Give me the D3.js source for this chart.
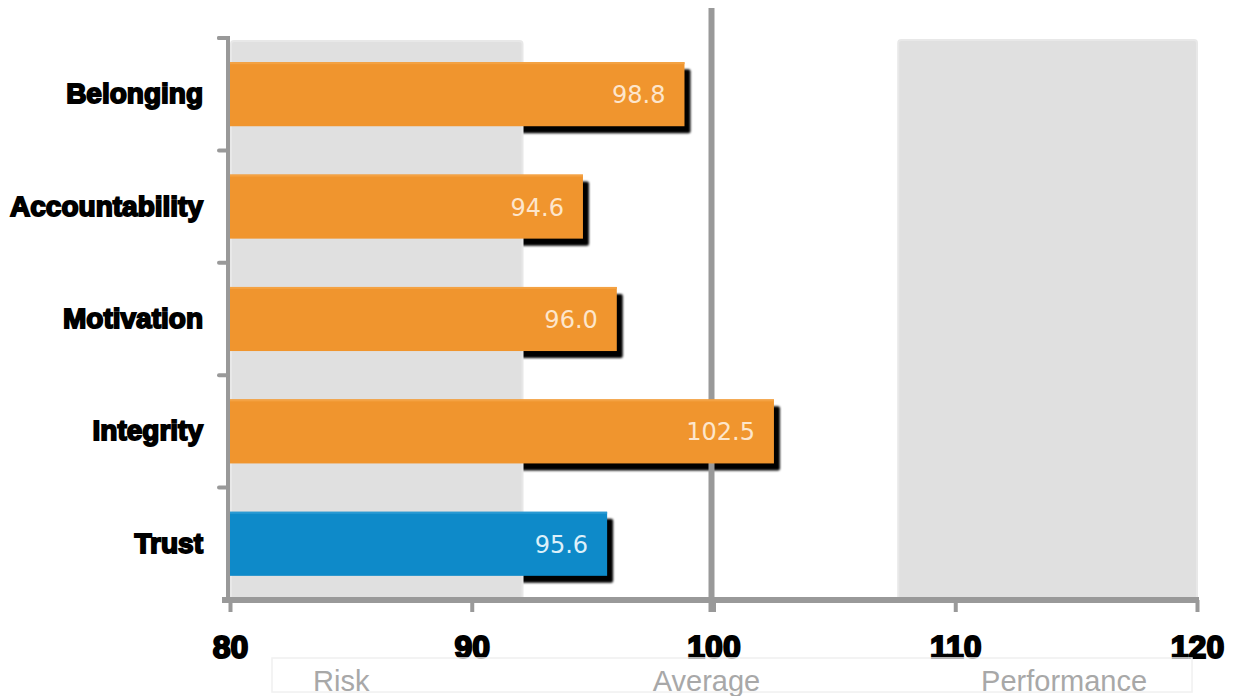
<!DOCTYPE html>
<html><head><meta charset="utf-8">
<script src="https://cdn.jsdelivr.net/npm/d3@7"></script>
<style>
html,body{margin:0;padding:0;background:#fff;}
svg{display:block;}
</style></head>
<body>
<svg id="chart" width="1233" height="696"></svg>
<script>
// ---- data ----
const categories = ["Belonging", "Accountability", "Motivation", "Integrity", "Trust"];
const values = [98.8, 94.6, 96.0, 102.5, 95.6];
const highlight = ["Trust"];
const xTicks = [80, 90, 100, 110, 120];
const zoneNames = ["Risk", "Average", "Performance"];
const riskZone = [80, 92.1];
const perfZone = [107.6, 120];
const averageValue = 100;

const svg = d3.select("#chart");
const W = 1233, H = 696;
const mLeft = 230, mRight = 1197, mTop = 38, mBottom = 600;

const x = d3.scaleLinear().domain([80, 120]).range([mLeft, mRight]);
const y = d3.scaleBand().domain(categories).range([mTop, mBottom]).paddingInner(0.43).paddingOuter(0.215);

const grey = "#999999";
const orange = "#f0952e", blue = "#0e8ac9";

const defs = svg.append("defs");
const blur = defs.append("filter").attr("id", "sh").attr("x", "-5%").attr("y", "-20%").attr("width", "110%").attr("height", "140%");
blur.append("feGaussianBlur").attr("stdDeviation", 0.8);

const data = categories.map((c, i) => ({ c, v: values[i] }));

// shadows
svg.append("g").selectAll("rect").data(data).join("rect")
  .attr("x", x(80) + 6).attr("y", d => y(d.c) + 7)
  .attr("width", d => x(d.v) - x(80)).attr("height", y.bandwidth())
  .attr("rx", 2).attr("fill", "#000").attr("filter", "url(#sh)");

// zones
const zones = [riskZone, perfZone];
svg.append("g").selectAll("rect").data(zones).join("rect")
  .attr("x", d => x(d[0]) + 1).attr("y", (d, i) => i === 0 ? 41 : 40)
  .attr("width", d => x(d[1]) - x(d[0]) - 1).attr("height", (d, i) => mBottom - (i === 0 ? 41 : 40))
  .attr("rx", 3).attr("fill", "#e0e0e0").attr("stroke", "#e8e8e8").attr("stroke-width", 2);

// average line
svg.append("line").attr("x1", x(averageValue) - 2).attr("x2", x(averageValue) - 2)
  .attr("y1", 8).attr("y2", 612).attr("stroke", grey).attr("stroke-width", 6);

// bars
svg.append("g").selectAll("rect").data(data).join("rect")
  .attr("x", x(80)).attr("y", d => y(d.c))
  .attr("width", d => x(d.v) - x(80)).attr("height", y.bandwidth())
  .attr("fill", d => highlight.includes(d.c) ? blue : orange);
// subtle top highlight
svg.append("g").selectAll("rect").data(data).join("rect")
  .attr("x", x(80)).attr("y", d => y(d.c))
  .attr("width", d => x(d.v) - x(80)).attr("height", 2)
  .attr("fill", d => highlight.includes(d.c) ? "#2a9ad3" : "#f4a243");

// value labels
svg.append("g").selectAll("text").data(data).join("text")
  .attr("x", d => x(d.v) - 19).attr("y", d => y(d.c) + y.bandwidth() / 2 + 9)
  .attr("text-anchor", "end")
  .attr("font-family", "DejaVu Sans").attr("font-size", 24)
  .attr("fill", d => highlight.includes(d.c) ? "#dcf0fa" : "#fde6cc")
  .text(d => d.v.toFixed(1));

// x axis
const xAxis = svg.append("g").attr("transform", `translate(0,${mBottom})`)
  .call(d3.axisBottom(x).tickValues(xTicks).tickSize(12).tickPadding(23).tickFormat(d3.format("d")));
xAxis.select(".domain").remove();
xAxis.append("line").attr("x1", mLeft - 8).attr("x2", mRight + 2).attr("y1", 0).attr("y2", 0)
  .attr("stroke", grey).attr("stroke-width", 6);
xAxis.selectAll(".tick line").attr("stroke", grey).attr("stroke-width", 4);
xAxis.selectAll(".tick text")
  .attr("font-family", "Liberation Sans").attr("font-weight", "bold").attr("font-size", 32)
  .attr("fill", "#000").attr("stroke", "#000").attr("stroke-width", 2);

// y axis
const yAxis = svg.append("g").attr("transform", `translate(${mLeft - 2},0)`)
  .call(d3.axisLeft(y).tickSize(0).tickPadding(25));
yAxis.select(".domain").remove();
yAxis.append("line").attr("x1", 0).attr("x2", 0).attr("y1", mTop - 2).attr("y2", mBottom)
  .attr("stroke", grey).attr("stroke-width", 4);
yAxis.selectAll(".tick text")
  .attr("font-family", "Liberation Sans").attr("font-weight", "bold").attr("font-size", 28)
  .attr("fill", "#000").attr("stroke", "#000").attr("stroke-width", 1.8);
const bounds = categories.map(c => y(c) - y.step() * y.paddingInner() / 2).concat([mTop]);
yAxis.append("g").selectAll("line").data(bounds).join("line")
  .attr("x1", -9).attr("x2", 0).attr("y1", d => d).attr("y2", d => d)
  .attr("stroke", grey).attr("stroke-width", 4).attr("stroke-linecap", "round");

// zone legend
svg.append("rect").attr("x", 272).attr("y", 658).attr("width", 920).attr("height", 34)
  .attr("fill", "none").attr("stroke", "#f0f0f0").attr("stroke-width", 1.5);
const legendX = [(x(80) + x(riskZone[1])) / 2 - 35, x(averageValue) - 7, (x(perfZone[0]) + x(120)) / 2 + 17];
svg.append("g").selectAll("text").data(zoneNames).join("text")
  .attr("x", (d, i) => legendX[i]).attr("y", 691)
  .attr("text-anchor", "middle")
  .attr("font-family", "Liberation Sans").attr("font-size", 29)
  .attr("fill", "#a8a8a8")
  .text(d => d);
</script>
</body></html>
